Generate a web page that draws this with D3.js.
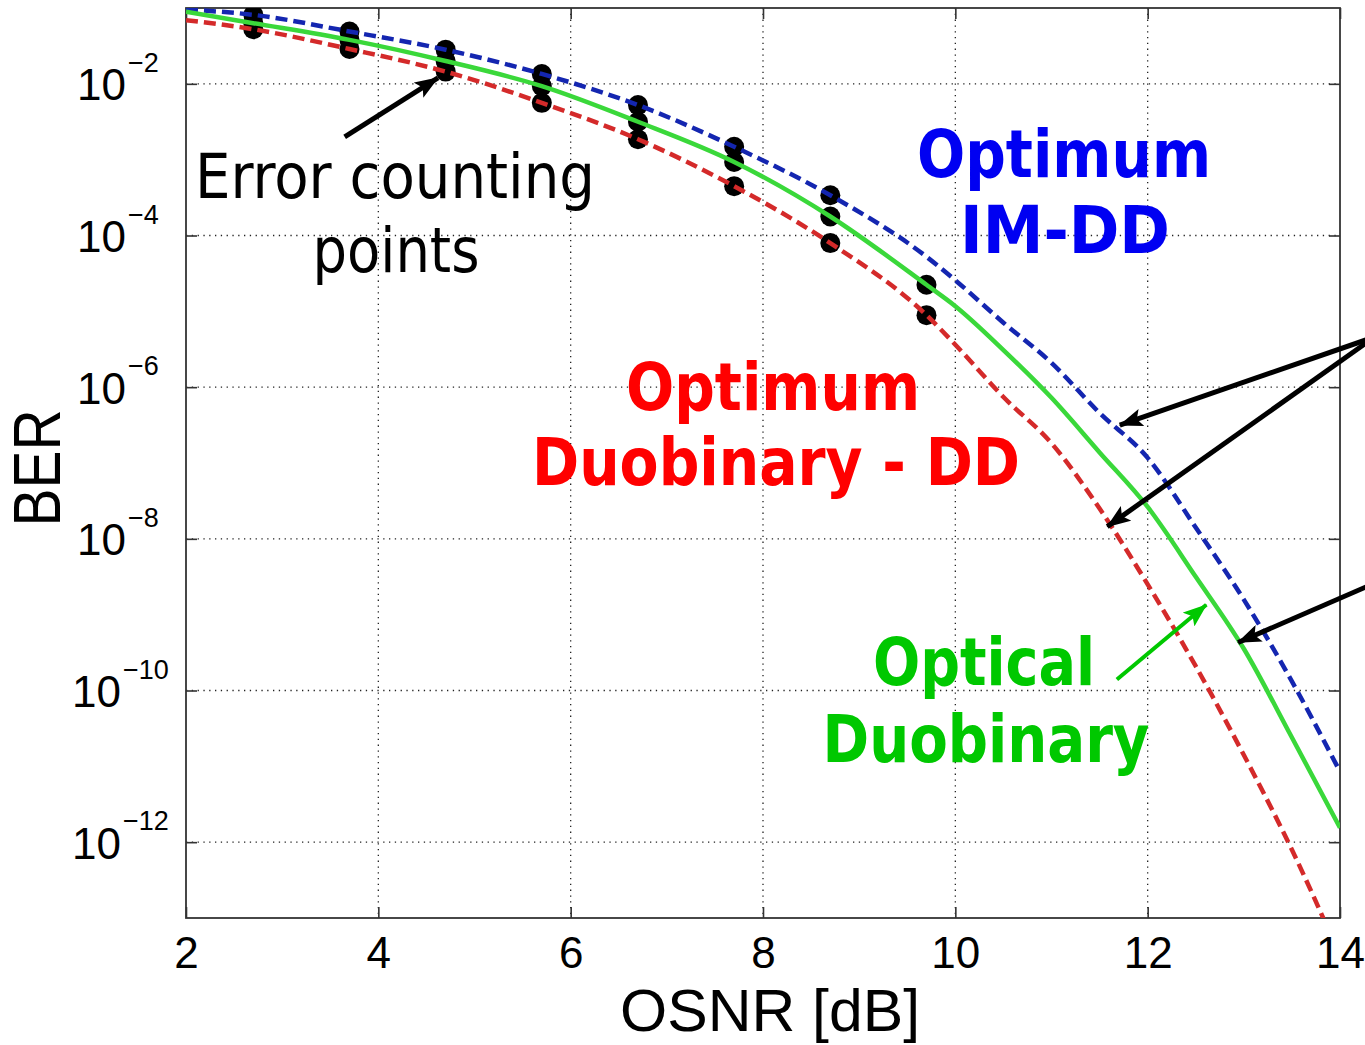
<!DOCTYPE html>
<html>
<head>
<meta charset="utf-8">
<script src="https://cdn.jsdelivr.net/npm/d3@7"></script>
<style>
  html, body { margin: 0; padding: 0; background: #fff; }
  svg { display: block; background: #fff; }
  .axis-label { font-family: "Liberation Sans", Arial, Helvetica, sans-serif; fill: #000; }
  .note { font-family: "DejaVu Sans Condensed", "DejaVu Sans", Tahoma, sans-serif; }
  .grid line { stroke: #222; stroke-width: 1.3; stroke-dasharray: 1.3 4.5; }
</style>
</head>
<body>
<div id="chart"></div>
<script>
// OSNR grid [dB] for the three theoretical curves
const curveOsnr = [2.0, 2.7, 3.7, 4.7, 5.7, 6.7, 7.7, 8.7, 9.7, 10.0, 10.5, 11.0, 11.5, 12.0, 12.5, 13.0, 13.5, 14.0];

// BER of each curve
const imddBer = [9.55e-2, 8.13e-2, 4.90e-2, 2.82e-2, 1.35e-2, 5.25e-3, 1.48e-3, 3.39e-4, 5.25e-5, 2.57e-5, 7.08e-6, 2.09e-6, 4.57e-7, 1.17e-7, 1.41e-8, 1.58e-9, 1.32e-10, 8.51e-12];
const opticalDuoBer = [8.91e-2, 6.31e-2, 3.80e-2, 2.00e-2, 9.33e-3, 3.16e-3, 9.33e-4, 1.78e-4, 2.24e-5, 1.17e-5, 3.09e-6, 7.24e-7, 1.38e-7, 2.63e-8, 3.16e-9, 3.55e-10, 2.40e-11, 1.55e-12];
const duoDdBer = [6.92e-2, 5.25e-2, 2.88e-2, 1.45e-2, 5.62e-3, 1.86e-3, 4.47e-4, 7.94e-5, 8.91e-6, 3.63e-6, 7.41e-7, 1.82e-7, 2.51e-8, 2.51e-9, 2.09e-10, 1.41e-11, 7.94e-13, 3.16e-14];

// error counting points
const countOsnr = [2.7, 3.7, 4.7, 5.7, 6.7, 7.7, 8.7, 9.7];
const imddCounted = [8.13e-2, 4.90e-2, 2.82e-2, 1.35e-2, 5.25e-3, 1.48e-3, 3.39e-4];
const opticalDuoCounted = [6.31e-2, 3.80e-2, 2.00e-2, 9.33e-3, 3.16e-3, 9.33e-4, 1.78e-4, 2.24e-5];
const duoDdCounted = [5.25e-2, 2.88e-2, 1.45e-2, 5.62e-3, 1.86e-3, 4.47e-4, 7.94e-5, 8.91e-6];

// axes
const xTicks = [2, 4, 6, 8, 10, 12, 14];
const yTicks = [1e-2, 1e-4, 1e-6, 1e-8, 1e-10, 1e-12];
const xLabel = 'OSNR [dB]';
const yLabel = 'BER';

// arrows, in data units [osnr, ber]
const arrows = [
  { from: [3.65, 2.0e-3], to: [4.62, 1.2e-2], color: '#000', width: 5 },
  { from: [14.36, 4.6e-6], to: [11.71, 3.16e-7], color: '#000', width: 5 },
  { from: [14.36, 4.6e-6], to: [11.58, 1.45e-8], color: '#000', width: 5 },
  { from: [14.36, 2.6e-9], to: [12.94, 4.3e-10], color: '#000', width: 5 },
  { from: [11.68, 1.4e-10], to: [12.61, 1.35e-9], color: '#00c800', width: 4 }
];

const W = 1365, H = 1045;
const box = { left: 186, right: 1340, top: 8, bottom: 918 };

const x = d3.scaleLinear().domain([2, 14]).range([box.left, box.right]);
const y = d3.scaleLog().domain([1e-13, 1e-1]).range([box.bottom, box.top]);

const svg = d3.select('#chart').append('svg').attr('width', W).attr('height', H);
const defs = svg.append('defs');
defs.append('clipPath').attr('id', 'plot-clip')
  .append('rect').attr('x', box.left).attr('y', box.top)
  .attr('width', box.right - box.left).attr('height', box.bottom - box.top);

['#000', '#00c800'].forEach((c, i) => {
  defs.append('marker')
    .attr('id', 'head' + i)
    .attr('markerUnits', 'userSpaceOnUse')
    .attr('viewBox', '0 0 24 18')
    .attr('refX', 23).attr('refY', 9)
    .attr('markerWidth', 24).attr('markerHeight', 18)
    .attr('orient', 'auto')
    .append('path').attr('d', 'M0,0 L24,9 L0,18 L5,9 Z').attr('fill', c);
});

// grid
svg.append('g').attr('class', 'grid')
  .selectAll('line').data(xTicks.slice(1, -1)).join('line')
  .attr('x1', d => x(d)).attr('x2', d => x(d)).attr('y1', box.top).attr('y2', box.bottom);
svg.append('g').attr('class', 'grid')
  .selectAll('line').data(yTicks).join('line')
  .attr('x1', box.left).attr('x2', box.right).attr('y1', d => y(d)).attr('y2', d => y(d));

// frame ticks, pointing inwards
const tickStyle = g => {
  g.select('.domain').remove();
  g.selectAll('.tick line').attr('stroke', '#333').attr('stroke-width', 1.6);
};
svg.append('g').attr('transform', `translate(0,${box.bottom})`)
  .call(d3.axisBottom(x).tickValues(xTicks).tickSizeInner(-11).tickSizeOuter(0).tickPadding(19).tickFormat(d3.format('d')))
  .call(tickStyle)
  .call(g => g.selectAll('.tick text').attr('class', 'axis-label').attr('font-size', 44).attr('fill', '#000'));
svg.append('g').attr('transform', `translate(0,${box.top})`)
  .call(d3.axisTop(x).tickValues(xTicks).tickSizeInner(-11).tickSizeOuter(0).tickFormat(''))
  .call(tickStyle);
svg.append('g').attr('transform', `translate(${box.left},0)`)
  .call(d3.axisLeft(y).tickValues(yTicks).tickSizeInner(-11).tickSizeOuter(0).tickFormat(''))
  .call(tickStyle);
svg.append('g').attr('transform', `translate(${box.right},0)`)
  .call(d3.axisRight(y).tickValues(yTicks).tickSizeInner(-11).tickSizeOuter(0).tickFormat(''))
  .call(tickStyle);

// y tick labels 10^-n
const expOf = d => Math.abs(Math.round(Math.log10(d)));
const yLab = svg.append('g').selectAll('text').data(yTicks).join('text')
  .attr('class', 'axis-label')
  .attr('font-size', 44)
  .attr('x', d => 77 - 5 * (String(expOf(d)).length - 1))
  .attr('y', d => y(d) + 16.5);
yLab.append('tspan').text('10');
yLab.append('tspan').attr('dx', 2).attr('dy', -28.5).attr('font-size', 27)
  .text(d => '\u2212' + expOf(d));

// frame
svg.append('rect').attr('x', box.left).attr('y', box.top)
  .attr('width', box.right - box.left).attr('height', box.bottom - box.top)
  .attr('fill', 'none').attr('stroke', '#333').attr('stroke-width', 1.8);

// axis titles
svg.append('text').attr('class', 'axis-label')
  .attr('transform', 'translate(60,468) rotate(-90)')
  .attr('text-anchor', 'middle').attr('font-size', 66)
  .attr('textLength', 117).attr('lengthAdjust', 'spacingAndGlyphs')
  .text(yLabel);
svg.append('text').attr('class', 'axis-label')
  .attr('x', 770).attr('y', 1031)
  .attr('text-anchor', 'middle').attr('font-size', 60)
  .attr('textLength', 300).attr('lengthAdjust', 'spacingAndGlyphs')
  .text(xLabel);

// error counting points
const plot = svg.append('g').attr('clip-path', 'url(#plot-clip)');
const dots = [
  ...imddCounted.map((b, i) => [countOsnr[i], b]),
  ...opticalDuoCounted.map((b, i) => [countOsnr[i], b]),
  ...duoDdCounted.map((b, i) => [countOsnr[i], b])
];
plot.append('g').selectAll('circle').data(dots).join('circle')
  .attr('cx', d => x(d[0])).attr('cy', d => y(d[1])).attr('r', 10).attr('fill', '#000');

// curves
const line = d3.line().x(d => x(d[0])).y(d => y(d[1])).curve(d3.curveMonotoneX);
const series = [
  { ber: duoDdBer, color: '#d42a2a', dash: '12 6' },
  { ber: imddBer, color: '#1426b0', dash: '12 6' },
  { ber: opticalDuoBer, color: '#3ad83a', dash: null }
];
plot.append('g').selectAll('path').data(series).join('path')
  .attr('d', s => line(curveOsnr.map((o, i) => [o, s.ber[i]])))
  .attr('fill', 'none')
  .attr('stroke', s => s.color)
  .attr('stroke-width', 4.5)
  .attr('stroke-dasharray', s => s.dash);

// arrows
svg.append('g').selectAll('line').data(arrows).join('line')
  .attr('x1', d => x(d.from[0])).attr('y1', d => y(d.from[1]))
  .attr('x2', d => x(d.to[0])).attr('y2', d => y(d.to[1]))
  .attr('stroke', d => d.color).attr('stroke-width', d => d.width)
  .attr('marker-end', d => d.color === '#000' ? 'url(#head0)' : 'url(#head1)');

// annotations
const notes = [
  { text: 'Error counting', x: 395, y: 198, len: 400, color: '#000', weight: 'normal', size: 63 },
  { text: 'points', x: 396, y: 272, len: 167, color: '#000', weight: 'normal', size: 63 },
  { text: 'Optimum', x: 1064, y: 177, len: 294, color: '#0000f2', weight: 'bold', size: 65 },
  { text: 'IM-DD', x: 1065, y: 253, len: 210, color: '#0000f2', weight: 'bold', size: 65 },
  { text: 'Optimum', x: 773, y: 410, len: 294, color: '#ff0000', weight: 'bold', size: 65 },
  { text: 'Duobinary - DD', x: 776, y: 485, len: 488, color: '#ff0000', weight: 'bold', size: 65 },
  { text: 'Optical', x: 984, y: 685, len: 222, color: '#00c800', weight: 'bold', size: 65 },
  { text: 'Duobinary', x: 986, y: 762, len: 327, color: '#00c800', weight: 'bold', size: 65 }
];
svg.append('g').selectAll('text').data(notes).join('text')
  .attr('class', 'note')
  .attr('x', d => d.x).attr('y', d => d.y)
  .attr('text-anchor', 'middle')
  .attr('font-size', d => d.size)
  .attr('font-weight', d => d.weight)
  .attr('fill', d => d.color)
  .attr('textLength', d => d.len).attr('lengthAdjust', 'spacingAndGlyphs')
  .text(d => d.text);
</script>
</body>
</html>
